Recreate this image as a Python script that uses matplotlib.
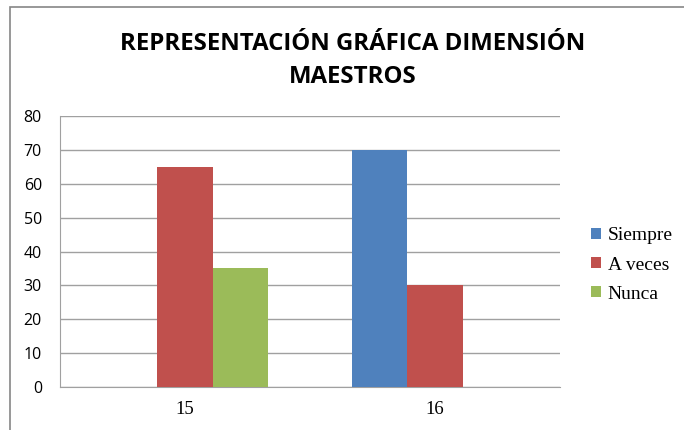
import matplotlib
matplotlib.use("Agg")
import matplotlib.pyplot as plt
import numpy as np
from matplotlib.patches import Rectangle

categories = ["15", "16"]
series_names = ["Siempre", "A veces", "Nunca"]
siempre = [0, 70]
a_veces = [65, 30]
nunca = [35, 0]
colors = ["#4F81BD", "#C0504D", "#9BBB59"]
yticks = [0, 10, 20, 30, 40, 50, 60, 70, 80]

W, H = 684, 430
fig = plt.figure(figsize=(W / 100, H / 100), dpi=100)
fig.patch.set_facecolor("white")

# outer chart frame
fig.patches.append(Rectangle((10 / W, -0.1), 1.2, (430 - 7) / H + 0.1,
                             transform=fig.transFigure, fill=False,
                             edgecolor="#868686", linewidth=1.2))

left, right, top, bottom = 60, 560, 116, 387
ax = fig.add_axes([left / W, 1 - bottom / H, (right - left) / W, (bottom - top) / H])

x = np.arange(len(categories))
bw = 0.222
data = [siempre, a_veces, nunca]
for i, (name, vals, c) in enumerate(zip(series_names, data, colors)):
    ax.bar(x + (i - 1) * bw, vals, bw, color=c, label=name, zorder=3)

ax.set_xlim(-0.5, 1.5)
ax.set_ylim(0, 80)
ax.set_yticks(yticks)
ax.set_xticks(x)
ax.set_xticklabels(categories, fontfamily="Liberation Serif", fontsize=13.5)
for lab in ax.get_yticklabels():
    lab.set_fontfamily("Open Sans")
    lab.set_fontsize(11.5)
ax.tick_params(axis="both", length=0, colors="#000000")
ax.tick_params(axis="y", pad=13)
ax.tick_params(axis="x", pad=10)
ax.grid(axis="y", color="#A0A0A0", linewidth=1, zorder=0)
for s in ["top", "right"]:
    ax.spines[s].set_visible(False)
ax.spines["left"].set_color("#A0A0A0")
ax.spines["bottom"].set_color("#A0A0A0")

leg = fig.legend(loc="center left", bbox_to_anchor=(591 / W, 1 - 265 / H),
                 frameon=False, prop={"family": "Liberation Serif", "size": 14},
                 handlelength=0.5, handleheight=0.5, handletextpad=0.35,
                 labelspacing=0.62, borderpad=0, borderaxespad=0)

fig.text(353 / W, 1 - 44 / H, "REPRESENTACIÓN GRÁFICA DIMENSIÓN",
         ha="center", va="center", fontsize=17.3, fontweight="bold",
         fontfamily="Open Sans")
fig.text(353 / W, 1 - 77 / H, "MAESTROS",
         ha="center", va="center", fontsize=17.3, fontweight="bold",
         fontfamily="Open Sans")

fig.savefig("out.png", dpi=100)
